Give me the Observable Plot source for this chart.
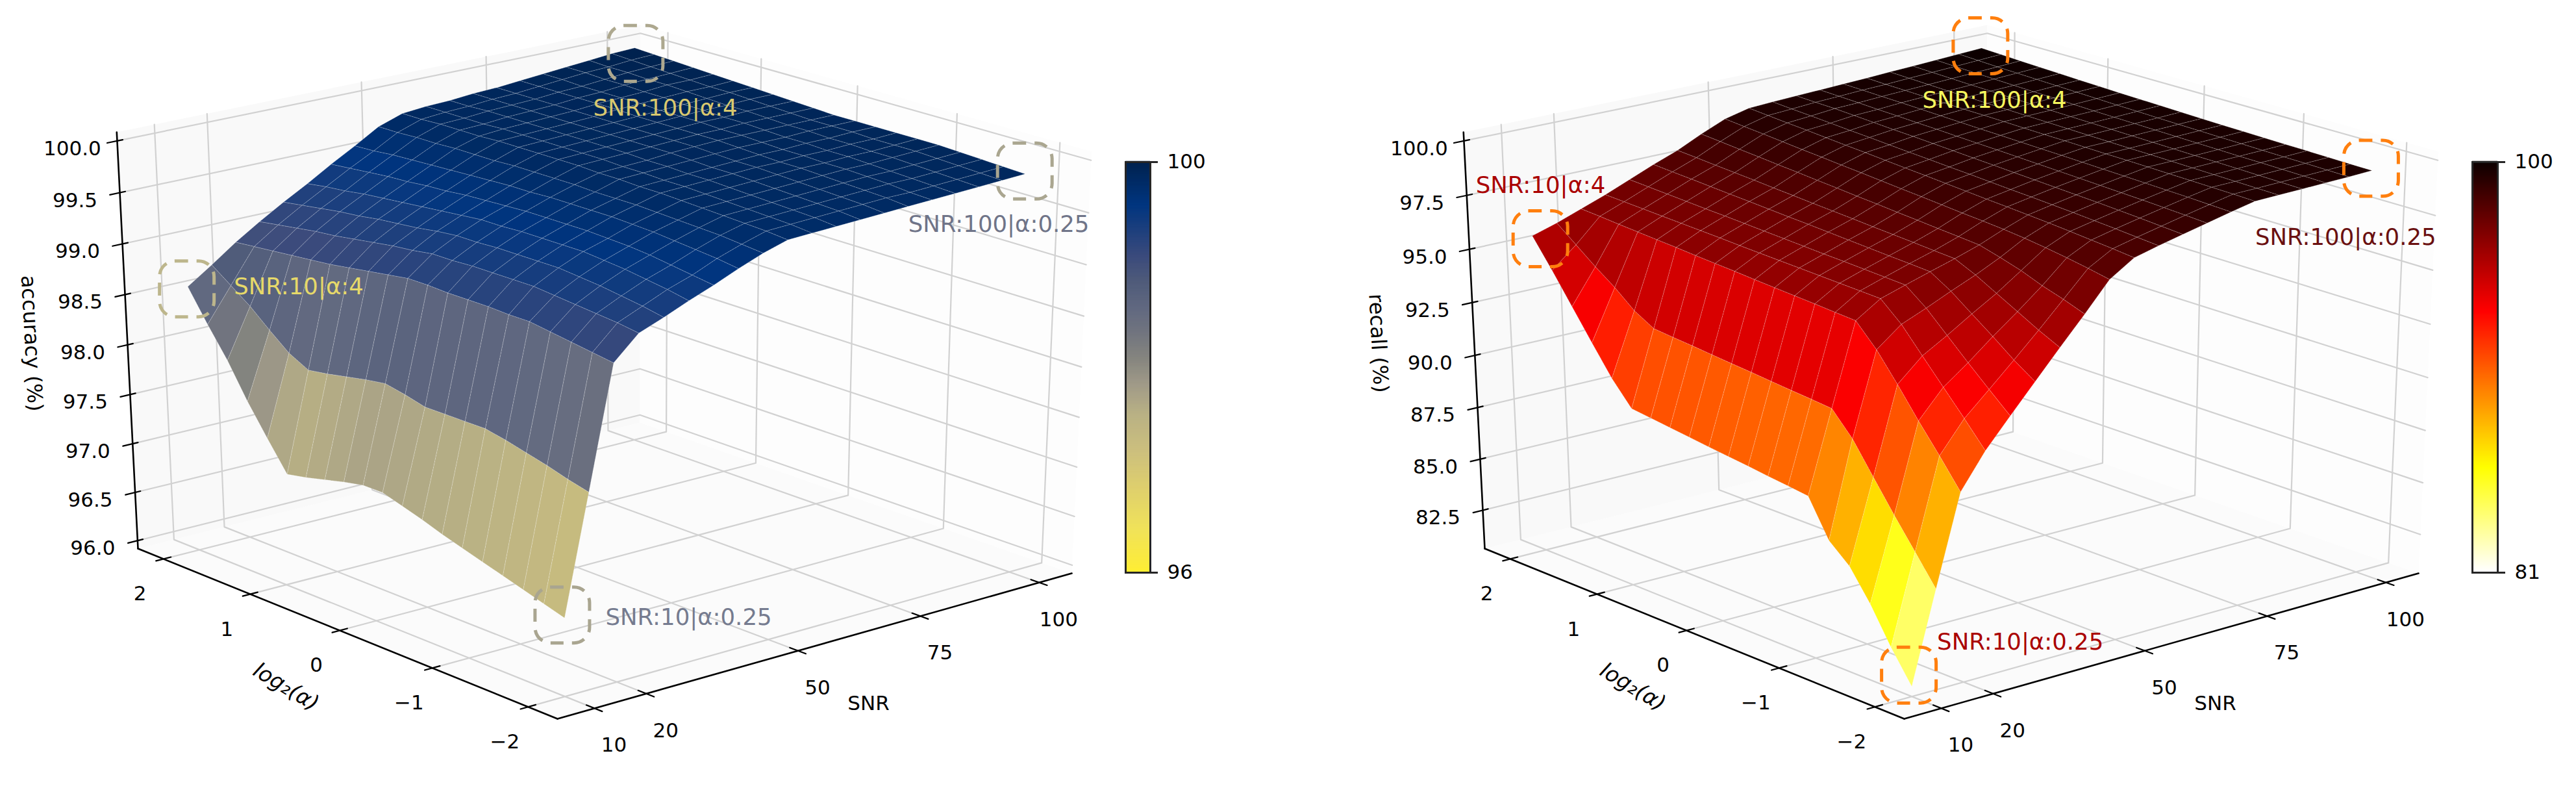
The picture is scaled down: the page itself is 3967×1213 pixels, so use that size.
<!DOCTYPE html>
<html><head><meta charset="utf-8">
<script src="https://cdn.jsdelivr.net/npm/d3@7"></script>
<script src="https://cdn.jsdelivr.net/npm/@observablehq/plot@0.6"></script>
<style>
html,body{margin:0;padding:0;background:#fff;overflow:hidden}
#row{display:flex;width:3967px;height:1213px}
#row svg{display:block;flex:none}
</style></head><body><div id="row"></div>
<script>
// Rows: one per SNR mesh node (10 → 100); columns: log2(alpha) mesh node (-2 → 2).
const accuracyBySnr = [
[96.69,96.75,96.81,96.87,96.93,96.99,97.05,97.12,97.18,97.24,97.24,97.20,97.15,97.10,97.06,97.35,97.65,97.99,98.28,98.59],
[97.84,97.89,97.95,98.00,98.05,98.09,98.09,98.09,98.09,98.14,98.18,98.15,98.11,98.07,98.04,98.14,98.30,98.47,98.61,98.75],
[99.00,99.03,99.06,99.09,99.12,99.12,99.13,99.13,99.13,99.14,99.14,99.11,99.08,99.05,99.02,99.00,98.98,98.96,98.94,98.92],
[99.22,99.25,99.27,99.29,99.31,99.33,99.33,99.33,99.33,99.32,99.32,99.29,99.27,99.24,99.21,99.18,99.16,99.13,99.10,99.07],
[99.31,99.35,99.38,99.41,99.43,99.45,99.45,99.45,99.45,99.44,99.44,99.42,99.39,99.37,99.35,99.32,99.30,99.27,99.24,99.21],
[99.41,99.45,99.48,99.51,99.53,99.55,99.55,99.55,99.55,99.54,99.54,99.52,99.50,99.48,99.46,99.44,99.42,99.39,99.37,99.34],
[99.50,99.53,99.56,99.59,99.61,99.62,99.63,99.63,99.63,99.63,99.62,99.61,99.60,99.58,99.57,99.55,99.54,99.52,99.50,99.48],
[99.60,99.63,99.65,99.67,99.69,99.70,99.71,99.71,99.71,99.71,99.70,99.70,99.69,99.68,99.67,99.66,99.65,99.64,99.62,99.61],
[99.69,99.71,99.73,99.74,99.75,99.76,99.77,99.77,99.77,99.78,99.78,99.78,99.78,99.77,99.77,99.77,99.76,99.76,99.75,99.75],
[99.76,99.78,99.79,99.80,99.81,99.82,99.83,99.83,99.84,99.84,99.85,99.85,99.85,99.85,99.85,99.84,99.84,99.84,99.83,99.83],
[99.77,99.79,99.80,99.81,99.82,99.83,99.84,99.84,99.85,99.85,99.86,99.86,99.86,99.86,99.86,99.86,99.85,99.85,99.85,99.85],
[99.78,99.80,99.81,99.82,99.83,99.84,99.85,99.85,99.86,99.86,99.87,99.87,99.87,99.87,99.87,99.87,99.87,99.87,99.86,99.86],
[99.79,99.81,99.82,99.83,99.84,99.85,99.86,99.86,99.87,99.88,99.88,99.88,99.88,99.88,99.88,99.88,99.88,99.88,99.88,99.88],
[99.80,99.82,99.83,99.84,99.85,99.86,99.87,99.87,99.88,99.89,99.89,99.89,99.89,99.89,99.89,99.89,99.89,99.89,99.89,99.89],
[99.81,99.83,99.84,99.85,99.86,99.87,99.87,99.88,99.89,99.90,99.90,99.90,99.90,99.90,99.91,99.91,99.91,99.91,99.91,99.91],
[99.82,99.83,99.85,99.86,99.87,99.87,99.88,99.88,99.89,99.90,99.90,99.91,99.91,99.91,99.92,99.92,99.92,99.92,99.93,99.93],
[99.83,99.84,99.85,99.86,99.87,99.88,99.88,99.89,99.89,99.90,99.91,99.91,99.92,99.92,99.93,99.93,99.94,99.94,99.95,99.95],
[99.84,99.85,99.86,99.87,99.88,99.88,99.89,99.89,99.90,99.90,99.91,99.92,99.92,99.93,99.94,99.95,99.95,99.96,99.96,99.97],
[99.85,99.86,99.87,99.88,99.89,99.89,99.89,99.90,99.90,99.90,99.91,99.92,99.93,99.94,99.94,99.95,99.96,99.97,99.98,99.99],
[99.86,99.87,99.88,99.89,99.90,99.90,99.90,99.90,99.90,99.90,99.91,99.92,99.93,99.94,99.95,99.96,99.97,99.98,99.99,100.00]
];
const recallBySnr = [
[81.08,82.53,84.19,85.58,86.41,88.12,88.24,88.35,88.47,88.58,88.69,88.81,88.92,89.04,89.15,90.25,91.60,92.98,94.36,95.67],
[85.31,86.66,87.99,89.39,90.80,91.85,91.94,92.02,92.11,92.20,92.28,92.37,92.46,92.54,92.63,93.15,93.92,94.58,95.30,96.02],
[89.46,90.76,92.00,93.32,94.56,95.55,95.61,95.68,95.74,95.80,95.86,95.93,95.99,96.05,96.12,96.18,96.24,96.30,96.37,96.43],
[91.04,92.16,93.24,94.33,95.43,96.27,96.31,96.35,96.39,96.43,96.47,96.51,96.55,96.60,96.64,96.68,96.72,96.76,96.80,96.84],
[92.33,93.19,94.07,94.98,95.89,96.62,96.67,96.72,96.77,96.81,96.86,96.91,96.96,97.01,97.06,97.10,97.15,97.20,97.25,97.30],
[93.59,94.24,94.98,95.68,96.39,96.96,97.02,97.07,97.13,97.19,97.25,97.31,97.36,97.42,97.48,97.53,97.59,97.65,97.70,97.76],
[94.85,95.31,95.83,96.34,96.86,97.29,97.35,97.42,97.48,97.54,97.61,97.67,97.73,97.80,97.86,97.93,97.99,98.05,98.12,98.18],
[96.08,96.43,96.73,97.10,97.39,97.65,97.73,97.80,97.88,97.95,98.03,98.10,98.18,98.25,98.33,98.40,98.48,98.55,98.63,98.70],
[97.36,97.55,97.72,97.87,98.00,98.10,98.18,98.25,98.33,98.41,98.48,98.56,98.64,98.71,98.79,98.86,98.94,99.02,99.09,99.17],
[98.07,98.17,98.26,98.35,98.43,98.50,98.57,98.63,98.70,98.77,98.84,98.90,98.97,99.04,99.10,99.17,99.24,99.30,99.37,99.44],
[98.35,98.43,98.51,98.58,98.65,98.71,98.77,98.82,98.88,98.94,98.99,99.05,99.10,99.16,99.22,99.27,99.33,99.39,99.44,99.50],
[98.60,98.67,98.74,98.80,98.86,98.91,98.96,99.01,99.06,99.11,99.16,99.21,99.26,99.31,99.35,99.40,99.45,99.50,99.52,99.55],
[98.85,98.91,98.96,99.01,99.05,99.09,99.13,99.17,99.21,99.25,99.29,99.32,99.36,99.40,99.43,99.47,99.50,99.54,99.57,99.60],
[99.10,99.14,99.18,99.21,99.24,99.27,99.30,99.33,99.36,99.38,99.41,99.44,99.46,99.49,99.52,99.55,99.58,99.60,99.63,99.65],
[99.33,99.36,99.38,99.40,99.42,99.44,99.46,99.47,99.49,99.51,99.52,99.54,99.56,99.58,99.59,99.61,99.63,99.65,99.67,99.70],
[99.36,99.38,99.40,99.42,99.44,99.46,99.48,99.49,99.51,99.53,99.55,99.57,99.59,99.61,99.63,99.65,99.67,99.70,99.73,99.76],
[99.39,99.41,99.43,99.45,99.47,99.48,99.50,99.52,99.54,99.56,99.58,99.60,99.62,99.65,99.67,99.70,99.72,99.75,99.78,99.81],
[99.42,99.44,99.46,99.48,99.49,99.51,99.53,99.55,99.57,99.59,99.61,99.63,99.66,99.69,99.71,99.74,99.77,99.80,99.83,99.87],
[99.45,99.47,99.49,99.50,99.52,99.54,99.56,99.58,99.60,99.62,99.65,99.67,99.70,99.73,99.76,99.79,99.82,99.85,99.89,99.93],
[99.49,99.50,99.52,99.54,99.55,99.57,99.59,99.61,99.63,99.66,99.69,99.71,99.74,99.77,99.80,99.84,99.87,99.91,99.95,99.99]
];
const snrTicks = [10, 20, 50, 75, 100];
const alphaTicks = [-2, -1, 0, 1, 2];
const accuracyTicks = [96, 96.5, 97, 97.5, 98, 98.5, 99, 99.5, 100];
const recallTicks = [82.5, 85, 87.5, 90, 92.5, 95, 97.5, 100];
const accuracyColorValues = [96, 96.04, 96.424, 96.8, 97.16, 97.532, 97.824, 98.08, 98.32, 98.576, 98.824, 99.08, 99.576, 100];
const accuracyColors = ["#fff030", "#fdec38", "#f0e25a", "#dfd06c", "#cdc07d", "#b9b184", "#a09a88", "#85857f", "#72757f", "#606880", "#4f5b7a", "#3a4a7c", "#00357f", "#00224e"];
const recallColorValues = [81, 85.826, 93.065, 100];
const recallColors = ["#ffffff", "#ffff00", "#ff0000", "#0b0000"];

// Camera of the 3D view (numerators and denominator of the perspective projection of the unit box)
const camera = {x: [896.4, -629.25, -43.4, 858], y: [-168.2, -195.3, -700.8, 1106], d: [0.06325, 0.079, -0.045, 1]};
const boxU = s => 0.068 + 0.865 * (s - 10) / 90;
const boxV = a => 0.5 + 0.2174 * a;
const dot = (c, u, v, w) => c[0] * u + c[1] * v + c[2] * w + c[3];
const toScreen = (u, v, w) => {
  const d = dot(camera.d, u, v, w);
  return {x: dot(camera.x, u, v, w) / d, y: dot(camera.y, u, v, w) / d, depth: d};
};

function surfacePanel(cfg) {
  const {rows, zMin, zMax, zTicks, colorDomain, colorRange, width, xStart, zLabel} = cfg;
  const tickFormat = d3.format(".1f");
  const boxW = z => 0.02 + 0.96 * (z - zMin) / (zMax - zMin);
  const n = rows.length, m = rows[0].length;
  const snrAt = i => 10 + 90 * i / (n - 1);
  const alphaAt = j => -2 + 4 * j / (m - 1);
  const node = (i, j) => toScreen(boxU(snrAt(i)), boxV(alphaAt(j)), boxW(rows[i][j]));

  // facets, far to near
  const facets = [];
  for (let i = 0; i < n - 1; i++) for (let j = 0; j < m - 1; j++) {
    const c = [[i, j], [i + 1, j], [i + 1, j + 1], [i, j + 1]];
    const pts = c.map(([a, b]) => node(a, b));
    facets.push({pts, value: d3.mean(c, ([a, b]) => rows[a][b]), depth: d3.mean(pts, p => p.depth)});
  }
  facets.sort((a, b) => b.depth - a.depth);
  const surface = facets.flatMap((f, k) => [...f.pts, f.pts[0]].map(p => ({x: p.x, y: p.y, k, value: f.value})));

  const pane = corners => corners.map(([u, v, w]) => toScreen(u, v, w));
  const seg = (key, ...pts) => pts.map(([u, v, w]) => ({...toScreen(u, v, w), key}));
  const grid = [
    ...snrTicks.flatMap(s => seg("s" + s, [boxU(s), 0, 0], [boxU(s), 1, 0], [boxU(s), 1, 1])),
    ...alphaTicks.flatMap(a => seg("a" + a, [0, boxV(a), 0], [1, boxV(a), 0], [1, boxV(a), 1])),
    ...zTicks.flatMap(z => seg("z" + z, [0, 1, boxW(z)], [1, 1, boxW(z)], [1, 0, boxW(z)]))
  ];
  const axes = [
    ...seg("x", [0, 0, 0], [1, 0, 0]),
    ...seg("y", [0, 0, 0], [0, 1, 0]),
    ...seg("z", [0, 1, 0], [0, 1, 1])
  ];
  const ticks = [
    ...snrTicks.flatMap(s => seg("s" + s, [boxU(s), -0.017, 0], [boxU(s), 0.018, 0])),
    ...alphaTicks.flatMap(a => seg("a" + a, [-0.014, boxV(a), 0], [0.014, boxV(a), 0])),
    ...zTicks.flatMap(z => seg("z" + z, [-0.018, 1, boxW(z)], [0.01, 1, boxW(z)]))
  ];
  const snrLabels = snrTicks.map(s => ({...toScreen(boxU(s), 0, 0), text: String(s)}));
  const alphaLabels = alphaTicks.map(a => ({...toScreen(0, boxV(a), 0), text: String(a).replace("-", "\u2212")}));
  const zLabels = zTicks.map(z => ({...toScreen(0, 1, boxW(z)), text: tickFormat(z)}));
  const notes = cfg.notes.map(o => ({...o, ...node(o.i, o.j)}));
  const font = {fontSize: 31, fill: "#000"};
  const gl = {x: "x", y: "y"};

  return Plot.plot({
    width, height: 1213,
    marginLeft: 0, marginRight: 0, marginTop: 0, marginBottom: 0,
    x: {type: "linear", domain: [xStart, xStart + width], range: [0, width], axis: null},
    y: {type: "linear", domain: [0, 1213], range: [0, 1213], axis: null},
    color: {type: "linear", domain: colorDomain, range: colorRange, clamp: true},
    style: {fontFamily: "'DejaVu Sans'", background: "transparent"},
    marks: [
      Plot.line(pane([[0, 0, 0], [1, 0, 0], [1, 1, 0], [0, 1, 0]]), {...gl, fill: "#fbfbfb", stroke: "none"}),
      Plot.line(pane([[0, 1, 0], [1, 1, 0], [1, 1, 1], [0, 1, 1]]), {...gl, fill: "#f9f9f9", stroke: "none"}),
      Plot.line(pane([[1, 0, 0], [1, 1, 0], [1, 1, 1], [1, 0, 1]]), {...gl, fill: "#fdfdfd", stroke: "none"}),
      Plot.line(grid, {...gl, z: "key", stroke: "#d1d1d1", strokeWidth: 2.2}),
      Plot.line(axes, {...gl, z: "key", stroke: "#000", strokeWidth: 2.6}),
      Plot.line(ticks, {...gl, z: "key", stroke: "#000", strokeWidth: 2.2}),
      Plot.text(snrLabels, {...gl, text: "text", ...font, dx: 30, dy: 57}),
      Plot.text(alphaLabels, {...gl, text: "text", ...font, dx: -36, dy: 54}),
      Plot.text(zLabels, {...gl, text: "text", ...font, dx: -69, dy: 12}),
      Plot.text([{x: 1337, y: 1083}], {...gl, text: () => "SNR", ...font}),
      Plot.text([{x: 440, y: 1057}], {...gl, text: () => "log\u2082(\u03b1)", ...font, fontSize: 33, fontStyle: "italic", rotate: 31}),
      Plot.text([{x: 48, y: 528}], {...gl, text: () => zLabel, ...font, fontSize: 32, rotate: 87}),
      Plot.line(surface, {...gl, z: "k", fill: "value", stroke: "#fff", strokeOpacity: 0.24, strokeWidth: 1, strokeDasharray: "3,1.5"}),
      Plot.rect(notes, {
        x1: d => d.x + d.bx - 42, x2: d => d.x + d.bx + 42,
        y1: d => d.y + d.by - 43, y2: d => d.y + d.by + 43,
        stroke: d => d.box, fill: "none", strokeWidth: 5, strokeDasharray: "20,13", rx: 24, ry: 24
      }),
      ...notes.map(o => Plot.text([o], {...gl, text: "text", dx: o.dx, dy: o.dy, fill: o.color, fontSize: 35.5, textAnchor: "start", lineAnchor: "middle"}))
    ]
  });
}

function colorBar(cfg) {
  const {colorDomain, colorRange, tickValues, width, left, barWidth} = cfg;
  const [lo, hi] = [tickValues[0], tickValues[tickValues.length - 1]];
  const step = (hi - lo) / 300;
  const levels = d3.range(300).map(k => lo + k * step);
  return Plot.plot({
    width, height: 1213,
    marginLeft: left, marginRight: width - left - barWidth, marginTop: 249, marginBottom: 332,
    x: {domain: [0, 1], axis: null},
    y: {domain: [lo, hi], axis: null},
    color: {type: "linear", domain: colorDomain, range: colorRange},
    style: {fontFamily: "'DejaVu Sans'", background: "transparent"},
    marks: [
      Plot.rect(levels, {x1: () => 0, x2: () => 1, y1: d => d, y2: d => d + step * 1.6, fill: d => d}),
      Plot.frame({stroke: "#262626", strokeWidth: 3, fill: "none"}),
      Plot.axisY(tickValues, {anchor: "right", label: null, tickSize: 11, tickPadding: 15, fontSize: 31, stroke: "#262626", strokeWidth: 3, tickFormat: String})
    ]
  });
}

const row = document.getElementById("row");
row.append(surfacePanel({
  rows: accuracyBySnr, zMin: 96, zMax: 100, zTicks: accuracyTicks,
  colorDomain: accuracyColorValues, colorRange: accuracyColors, width: 1720, xStart: 0,
  zLabel: "accuracy (%)",
  notes: [
    {i: 0, j: 19, text: "SNR:10|\u03b1:4", dx: 71, dy: 0, bx: -1, by: 4, color: "#e6d96a", box: "#bdb68c"},
    {i: 19, j: 19, text: "SNR:100|\u03b1:4", dx: -64, dy: 93, bx: 2, by: 9, color: "#d9c86f", box: "#ada88f"},
    {i: 19, j: 0, text: "SNR:100|\u03b1:0.25", dx: -180, dy: 78, bx: 0, by: -4, color: "#6f7488", box: "#aaa690"},
    {i: 0, j: 0, text: "SNR:10|\u03b1:0.25", dx: 63, dy: -1, bx: -3, by: -4, color: "#757b8f", box: "#a9a590"}
  ]
}));
row.append(colorBar({colorDomain: accuracyColorValues, colorRange: accuracyColors, tickValues: [96, 100], width: 280, left: 13, barWidth: 38}));
row.append(surfacePanel({
  rows: recallBySnr, zMin: 81, zMax: 100, zTicks: recallTicks,
  colorDomain: recallColorValues, colorRange: recallColors, width: 1790, xStart: -74,
  zLabel: "recall (%)",
  notes: [
    {i: 0, j: 19, text: "SNR:10|\u03b1:4", dx: -87, dy: -77, bx: 13, by: 5, color: "#aa0000", box: "#ff7f0e"},
    {i: 19, j: 19, text: "SNR:100|\u03b1:4", dx: -91, dy: 81, bx: -1, by: -3, color: "#f7f75e", box: "#ff7f0e"},
    {i: 19, j: 0, text: "SNR:100|\u03b1:0.25", dx: -180, dy: 103, bx: -1, by: -3, color: "#6a1010", box: "#ff7f0e"},
    {i: 0, j: 0, text: "SNR:10|\u03b1:0.25", dx: 39, dy: -68, bx: -4, by: -17, color: "#aa0000", box: "#ff7f0e"}
  ]
}));
row.append(colorBar({colorDomain: recallColorValues, colorRange: recallColors, tickValues: [81, 100], width: 177, left: 17, barWidth: 39}));
</script></body></html>
